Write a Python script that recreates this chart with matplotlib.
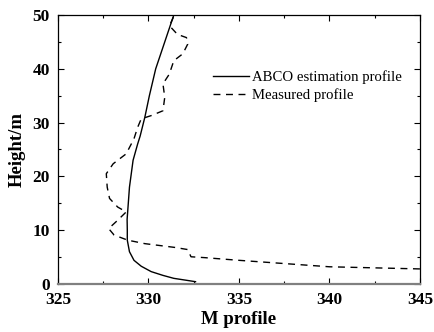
import matplotlib
matplotlib.use("Agg")
import matplotlib.pyplot as plt
from matplotlib.ticker import MultipleLocator

# ABCO estimation profile (M, height)
abco_m = [332.6, 331.4, 330.8, 330.15, 329.6, 329.2, 328.95, 328.83, 328.83, 328.82,
          328.87, 328.95, 329.15, 329.4, 329.54, 329.8, 330.05, 330.4, 330.9, 331.4]
abco_h = [0.43, 1.05, 1.6, 2.3, 3.3, 4.4, 6.0, 8.15, 10.0, 12.0,
          14.3, 18.0, 23.0, 26.0, 27.5, 31.0, 35.0, 40.0, 45.0, 50.0]

# Measured profile (M, height)
meas_m = [345.0, 340.0, 335.0, 333.1, 332.35, 332.17, 331.45, 329.8, 328.85, 328.1,
          327.8, 328.3, 328.77, 328.3, 327.85, 327.72, 327.67, 328.05, 328.77, 329.2,
          329.4, 329.6, 330.15, 330.8, 330.9, 330.8, 331.15, 331.4, 331.9, 332.17,
          332.1, 331.6, 331.16, 331.38]
meas_h = [2.8, 3.2, 4.4, 4.9, 5.06, 6.4, 6.8, 7.5, 8.15, 9.1,
          10.3, 11.85, 13.4, 14.3, 15.9, 18.0, 20.5, 22.35, 24.2, 27.0,
          29.1, 30.7, 31.3, 32.2, 34.7, 37.2, 39.0, 41.5, 42.8, 44.6,
          45.8, 46.4, 48.0, 49.6]

x_ticks = [325, 330, 335, 340, 345]
y_ticks = [0, 10, 20, 30, 40, 50]

plt.rcParams['font.family'] = ['Liberation Serif', 'DejaVu Serif']

fig = plt.figure(figsize=(4.35, 3.32), dpi=100)
ax = fig.add_axes([0.1333, 0.1446, 0.832, 0.8102])

ax.plot(abco_m, abco_h, color='black', lw=1.0, label='ABCO estimation profile')
ax.plot(meas_m, meas_h, color='black', lw=1.0, ls=(0, (5, 4)), label='Measured profile')

ax.set_xlim(325, 345)
ax.set_ylim(0, 50)
ax.set_xticks(x_ticks)
ax.set_yticks(y_ticks)
ax.xaxis.set_minor_locator(MultipleLocator(2.5))
ax.yaxis.set_minor_locator(MultipleLocator(5))
ax.tick_params(which='both', direction='in', top=True, right=True, labelsize=12.5)
ax.tick_params(axis='x', which='major', pad=6)
ax.tick_params(axis='y', which='major', pad=6)
ax.tick_params(which='major', length=4, width=0.8)
ax.tick_params(which='minor', length=2.5, width=0.8)
for lab in ax.get_xticklabels() + ax.get_yticklabels():
    lab.set_fontweight('bold')

for s in ['top', 'left', 'right']:
    ax.spines[s].set_linewidth(0.9)
ax.spines['bottom'].set_color('#808080')
ax.spines['bottom'].set_linewidth(1.6)

ax.set_xlabel('M profile', fontsize=13.5, fontweight='bold', labelpad=2)
ax.set_ylabel('Height/m', fontsize=13.5, fontweight='bold', labelpad=5)

ax.legend(loc='upper left', bbox_to_anchor=(0.413, 0.816), frameon=False, fontsize=10.6,
          handlelength=2.4, handletextpad=0.2, labelspacing=0.3, borderaxespad=0)

fig.savefig('out.png', dpi=100)
